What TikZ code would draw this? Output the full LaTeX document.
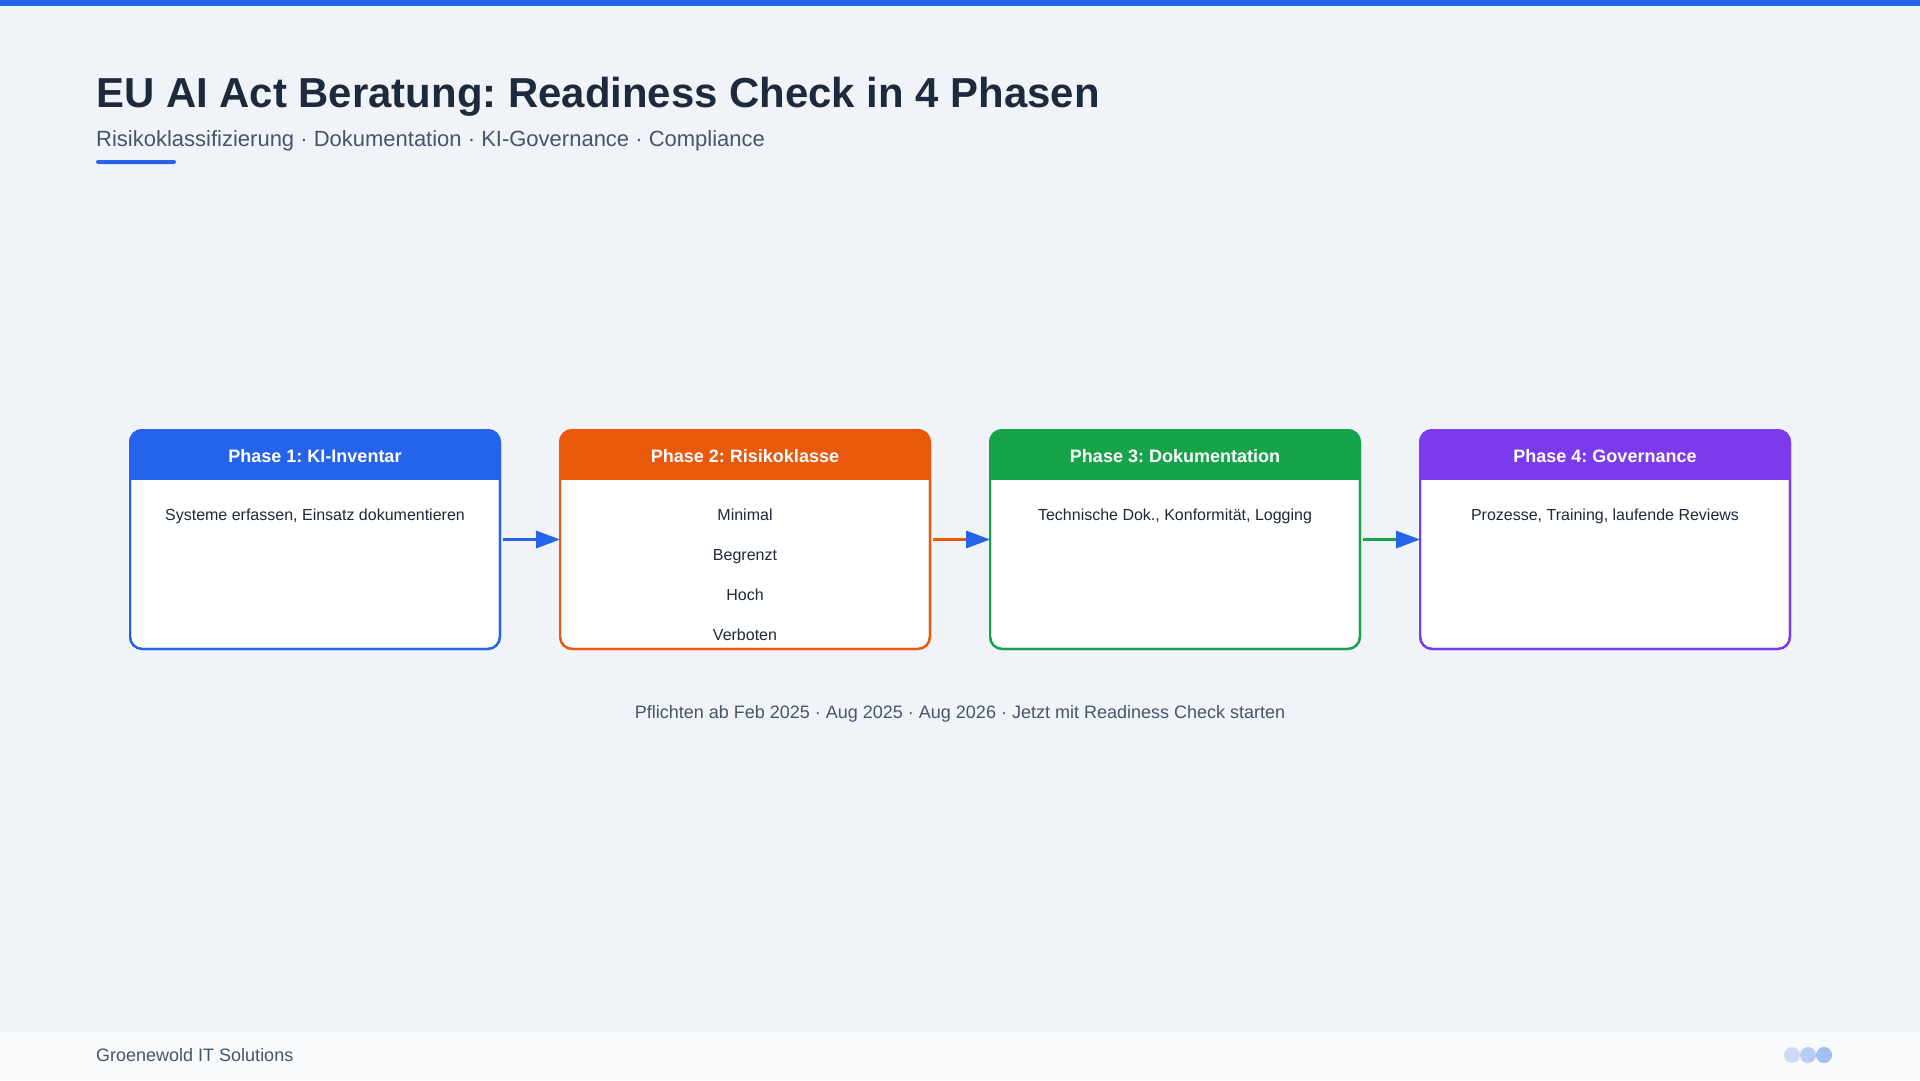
\documentclass[tikz,border=0pt]{standalone}
\usepackage{fontspec}
\setmainfont{Liberation Sans}
\usetikzlibrary{arrows.meta,positioning}
\frenchspacing

\definecolor{cBlue}{HTML}{2563EB}
\definecolor{cOrange}{HTML}{EA580C}
\definecolor{cGreen}{HTML}{16A34A}
\definecolor{cPurple}{HTML}{7C3AED}
\definecolor{cBack}{HTML}{F0F4F9}
\definecolor{cFoot}{HTML}{F8FAFC}
\definecolor{cTitle}{HTML}{1E293B}
\definecolor{cSub}{HTML}{475569}
\definecolor{cText}{HTML}{1F2937}

\tikzset{
  phasebox/.style={draw=#1, line width=2.2pt, rounded corners=12pt, fill=white,
    minimum width=369.8pt, minimum height=218.8pt, inner sep=0pt, outer sep=0pt},
  headtxt/.style={text=white, font=\fontsize{18}{21}\selectfont\bfseries},
  bodytxt/.style={text=cText, font=\fontsize{16}{19}\selectfont, text height=11.5pt, text depth=3.5pt},
  flow/.style={draw=#1, line width=3pt, shorten <=3pt,
    -{Triangle[length=24pt, width=17pt, color=cBlue, fill=cBlue]}}
}

\begin{document}
\begin{tikzpicture}[x=1pt,y=-1pt]
	\useasboundingbox (0,0) rectangle (1920,1080);
	
	%SFONDO
	\fill[cBack] (0,0) rectangle (1920,1080);
	\fill[cBlue] (0,0) rectangle (1920,6);
	\fill[cFoot] (0,1032) rectangle (1920,1080);
	
	%TITOLO
	\node[anchor=base west, inner sep=0pt, text=cTitle, font=\fontsize{41.9}{48}\selectfont\bfseries] (title) at (96,107) {EU AI Act Beratung: Readiness Check in 4 Phasen};
	\node[anchor=base west, inner sep=0pt, text=cSub, font=\fontsize{22}{26}\selectfont] (subtitle) at (96,146) {Risikoklassifizierung · Dokumentation · KI-Governance · Compliance};
	\fill[cBlue, rounded corners=2pt] (96,160) rectangle (176,164);
	
	%FASI
	\node[phasebox=cBlue] (p1) at (315,539.5) {};
	\node[phasebox=cOrange, right=60.2pt of p1] (p2) {};
	\node[phasebox=cGreen, right=60.2pt of p2] (p3) {};
	\node[phasebox=cPurple, right=60.2pt of p3] (p4) {};
	
	%TESTATE
	\begin{scope}
		\clip[rounded corners=12pt] (p1.north west) rectangle (p1.south east);
		\fill[cBlue] (p1.north west) rectangle ([yshift=-50pt]p1.north east);
	\end{scope}
	\begin{scope}
		\clip[rounded corners=12pt] (p2.north west) rectangle (p2.south east);
		\fill[cOrange] (p2.north west) rectangle ([yshift=-50pt]p2.north east);
	\end{scope}
	\begin{scope}
		\clip[rounded corners=12pt] (p3.north west) rectangle (p3.south east);
		\fill[cGreen] (p3.north west) rectangle ([yshift=-50pt]p3.north east);
	\end{scope}
	\begin{scope}
		\clip[rounded corners=12pt] (p4.north west) rectangle (p4.south east);
		\fill[cPurple] (p4.north west) rectangle ([yshift=-50pt]p4.north east);
	\end{scope}
	\draw[cBlue, line width=2.2pt, rounded corners=12pt] (p1.north west) rectangle (p1.south east);
	\draw[cOrange, line width=2.2pt, rounded corners=12pt] (p2.north west) rectangle (p2.south east);
	\draw[cGreen, line width=2.2pt, rounded corners=12pt] (p3.north west) rectangle (p3.south east);
	\draw[cPurple, line width=2.2pt, rounded corners=12pt] (p4.north west) rectangle (p4.south east);
	
	\node[headtxt] (h1) at ([yshift=-26pt]p1.north) {Phase 1: KI-Inventar};
	\node[headtxt] (h2) at ([yshift=-26pt]p2.north) {Phase 2: Risikoklasse};
	\node[headtxt] (h3) at ([yshift=-26pt]p3.north) {Phase 3: Dokumentation};
	\node[headtxt] (h4) at ([yshift=-26pt]p4.north) {Phase 4: Governance};
	
	%CONTENUTI
	\node[bodytxt] (t1) at ([yshift=-86pt]p1.north) {Systeme erfassen, Einsatz dokumentieren};
	\node[bodytxt] (r1) at ([yshift=-86pt]p2.north) {Minimal};
	\node[bodytxt] (r2) at ([yshift=-126pt]p2.north) {Begrenzt};
	\node[bodytxt] (r3) at ([yshift=-166pt]p2.north) {Hoch};
	\node[bodytxt] (r4) at ([yshift=-206pt]p2.north) {Verboten};
	\node[bodytxt] (t3) at ([yshift=-86pt]p3.north) {Technische Dok., Konformität, Logging};
	\node[bodytxt] (t4) at ([yshift=-86pt]p4.north) {Prozesse, Training, laufende Reviews};
	
	%FRECCE
	\draw[flow=cBlue] (p1.east) -- (p2.west);
	\draw[flow=cOrange] (p2.east) -- (p3.west);
	\draw[flow=cGreen] (p3.east) -- (p4.west);
	
	%NOTA
	\node[text=cSub, font=\fontsize{18}{21}\selectfont] (note) at (960,714) {Pflichten ab Feb 2025 · Aug 2025 · Aug 2026 · Jetzt mit Readiness Check starten};
	
	%PIEDE
	\node[anchor=west, inner sep=0pt, text=cSub, font=\fontsize{18}{21}\selectfont] (footer) at (96,1055) {Groenewold IT Solutions};
	\fill[cBlue, opacity=0.2] (1792,1055) circle (8);
	\fill[cBlue, opacity=0.3] (1808,1055) circle (8);
	\fill[cBlue, opacity=0.4] (1824,1055) circle (8);
\end{tikzpicture}
\end{document}
